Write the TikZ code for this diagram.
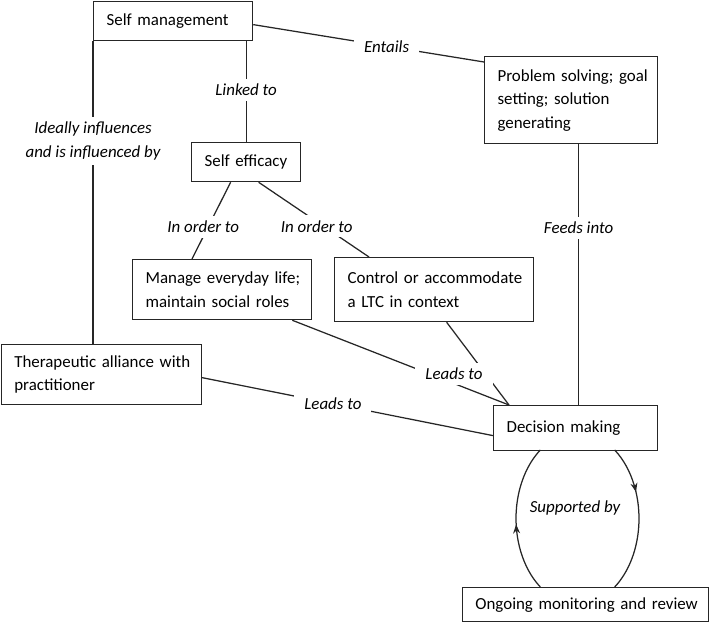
\documentclass[tikz,border=0pt]{standalone}
\usepackage{fontspec}
\setmainfont{Carlito}
\usetikzlibrary{decorations.markings,arrows.meta}
\begin{document}
\begin{tikzpicture}[x=1pt,y=1pt,
  every node/.style={font=\fontsize{16.9}{23.5}\selectfont},
  box/.style={draw=black!85, line width=1.25pt, align=left, inner xsep=13pt, inner ysep=0pt, anchor=north west},
  lbl/.style={fill=white, inner xsep=10pt, inner ysep=5pt, font=\fontsize{16.9}{23.5}\selectfont\itshape, align=center},
  lbltext/.style={font=\fontsize{16.9}{23.5}\selectfont\itshape},
  conn/.style={draw=black!85, line width=1.25pt},
  tipmark/.style={postaction={decorate}, decoration={markings, mark=at position #1 with {\arrow{Stealth[length=9pt,width=7pt]}}}}
  ]
\useasboundingbox (0,0) rectangle (709,622);

% boxes
\node[box, text width=133pt, minimum height=39pt] (sm) at (93,621) {\mbox{Self management}};
\node[box, text width=147pt, minimum height=87pt] (ps) at (484,566) {\mbox{Problem solving; goal}\\\mbox{setting; solution}\\\mbox{generating}};
\node[box, text width=83pt, minimum height=39pt] (se) at (191,480) {\mbox{Self efficacy}};
\node[box, text width=153pt, minimum height=60pt] (mel) at (132,363) {\mbox{Manage everyday life;}\\\mbox{maintain social roles}};
\node[box, text width=173pt, minimum height=64pt] (cal) at (334,365) {\mbox{Control or accommodate}\\\mbox{a LTC in context}};
\node[box, text width=174pt, minimum height=60pt] (ta) at (0.7,278) {\mbox{Therapeutic alliance with}\\\mbox{practitioner}};
\node[box, text width=138pt, minimum height=45pt] (dm) at (493,217) {\mbox{Decision making}};
\node[box, text width=220pt, minimum height=34pt] (om) at (461.8,35) {\mbox{Ongoing monitoring and review}};

% connectors
\draw[conn] (se.north |- sm.south) -- node[lbl,pos=0.48]{Linked to} (se.north);
\draw[conn] (sm.south west) -- node[lbl,pos=0.33]{Ideally influences\\and is influenced by} (sm.south west |- ta.north);
\draw[conn] ([yshift=-3.5pt]sm.east) -- node[lbl,pos=0.578]{Entails} ([yshift=-6pt]ps.north west);
\draw[conn] ([xshift=-15.5pt]se.south) -- node[lbl,pos=0.58,xshift=-5pt]{In order to} ([xshift=60pt]mel.north west);
\draw[conn] ([xshift=12.5pt]se.south) -- node[lbl,pos=0.59,xshift=-7pt]{In order to} ([xshift=35pt]cal.north west);
\draw[conn] ([xshift=7.5pt]ps.south) -- node[lbl,pos=0.32]{Feeds into} ([xshift=7.5pt]ps.south |- dm.north);
\draw[conn] ([xshift=-20pt]mel.south east) -- ([xshift=16pt]dm.north west);
\draw[conn] ([xshift=12.5pt]cal.south) -- ([xshift=16pt]dm.north west);
\node[lbl] (lt1) at (454,248) {Leads to};
\draw[conn] ([yshift=-3pt]ta.east) -- node[lbl,pos=0.45]{Leads to} ([yshift=-7.5pt]dm.west);

% supported-by loop
\coordinate (lc) at (577.5,103.5);
\path (lc) ++(232.8:61.5 and 86) coordinate (l1);
\path (lc) ++(52.8:61.5 and 86) coordinate (r1);
\draw[conn, tipmark=0.46] (l1) arc[start angle=232.8, end angle=127.2, x radius=61.5, y radius=86];
\draw[conn, tipmark=0.32] (r1) arc[start angle=52.8, end angle=-52.8, x radius=61.5, y radius=86];
\node[lbltext] (sup) at (575,114) {Supported by};
\end{tikzpicture}
\end{document}
